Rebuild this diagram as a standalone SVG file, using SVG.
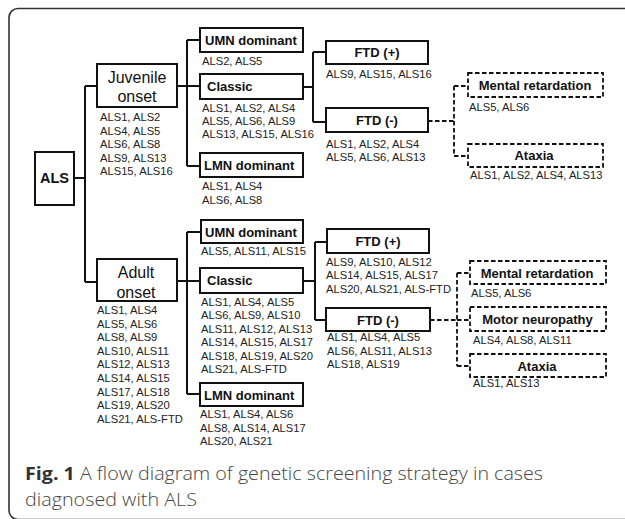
<svg xmlns="http://www.w3.org/2000/svg" width="625" height="519" viewBox="0 0 625 519">
<style>
.frame{fill:#fff;stroke:#333;stroke-width:1.6}
.box{fill:#fff;stroke:#111;stroke-width:2}
.dbox{fill:#fff;stroke:#111;stroke-width:1.8;stroke-dasharray:4.5 2.5}
.ln{fill:none;stroke:#111;stroke-width:2}
.dln{fill:none;stroke:#111;stroke-width:1.8;stroke-dasharray:4.5 2.5}
.lab{font-family:"Liberation Sans",Arial,sans-serif;font-weight:bold;font-size:13px;fill:#111}
.onset{font-family:"Liberation Sans",Arial,sans-serif;font-size:16px;fill:#111;text-anchor:middle}
.gl{font-family:"Liberation Sans",Arial,sans-serif;font-size:11.2px;fill:#222}
.cap{font-family:"Open Sans","Noto Sans",sans-serif;font-size:18px;font-weight:300;fill:#444}
.capb{font-weight:bold;fill:#333}
.mid{text-anchor:middle}
</style>
<rect class="frame" x="9" y="8.5" width="660" height="511" rx="9"/>

<g id="connectors">
<path class="ln" d="M74,178 H85 M85,86 V282 M85,86 H97 M85,282 H97"/>
<path class="ln" d="M177,86 H200 M187,40 V166 M187,40 H200 M187,166 H200"/>
<path class="ln" d="M303,87 H313 M313,52 V122 M313,52 H326 M313,122 H326"/>
<path class="dln" d="M428,121 H454 M454,86 V156 M454,86 H468 M454,156 H468"/>
<path class="ln" d="M177,281 H200 M187,232 V394 M187,232 H201 M187,394 H200"/>
<path class="ln" d="M303,281 H315 M315,242 V320 M315,242 H327 M315,320 H326"/>
<path class="dln" d="M430,320 H457 M457,273 V366 M457,273 H470 M457,320 H470 M457,366 H470"/>
</g>

<g id="als">
<rect class="box" x="35" y="152" width="39" height="53"/>
<text class="lab mid" x="54.5" y="183" style="font-size:14.5px">ALS</text>
</g>

<g id="juvenile-onset">
<rect class="box" x="97" y="64" width="80" height="43"/>
<text class="onset" x="137" y="83">Juvenile</text>
<text class="onset" x="137" y="102">onset</text>
<text class="gl" x="100" y="121"><tspan x="100">ALS1, ALS2</tspan><tspan x="100" dy="13.5">ALS4, ALS5</tspan><tspan x="100" dy="13.5">ALS6, ALS8</tspan><tspan x="100" dy="13.5">ALS9, ALS13</tspan><tspan x="100" dy="13.5">ALS15, ALS16</tspan></text>
</g>

<g id="juv-umn">
<rect class="box" x="200" y="28" width="103" height="24"/>
<text class="lab" x="205" y="45">UMN dominant</text>
<text class="gl" x="202" y="65">ALS2, ALS5</text>
</g>

<g id="juv-classic">
<rect class="box" x="200" y="74" width="103" height="25"/>
<text class="lab" x="207" y="91">Classic</text>
<text class="gl" x="202" y="112"><tspan x="202">ALS1, ALS2, ALS4</tspan><tspan x="202" dy="13">ALS5, ALS6, ALS9</tspan><tspan x="202" dy="13">ALS13, ALS15, ALS16</tspan></text>
</g>

<g id="juv-lmn">
<rect class="box" x="200" y="153" width="103" height="24"/>
<text class="lab" x="204" y="170">LMN dominant</text>
<text class="gl" x="202" y="190"><tspan x="202">ALS1, ALS4</tspan><tspan x="202" dy="14">ALS6, ALS8</tspan></text>
</g>

<g id="juv-ftd-plus">
<rect class="box" x="326" y="41" width="102" height="23"/>
<text class="lab mid" x="377" y="57">FTD (+)</text>
<text class="gl" x="326" y="78">ALS9, ALS15, ALS16</text>
</g>

<g id="juv-ftd-minus">
<rect class="box" x="326" y="108" width="102" height="24"/>
<text class="lab mid" x="377" y="125">FTD (-)</text>
<text class="gl" x="326" y="147.5"><tspan x="326">ALS1, ALS2, ALS4</tspan><tspan x="326" dy="13">ALS5, ALS6, ALS13</tspan></text>
</g>

<g id="juv-mental">
<rect class="dbox" x="468" y="73" width="135" height="24"/>
<text class="lab mid" x="535" y="90">Mental retardation</text>
<text class="gl" x="469" y="110.5">ALS5, ALS6</text>
</g>

<g id="juv-ataxia">
<rect class="dbox" x="468" y="144" width="135" height="23"/>
<text class="lab mid" x="534" y="160">Ataxia</text>
<text class="gl" x="470" y="179">ALS1, ALS2, ALS4, ALS13</text>
</g>

<g id="adult-onset">
<rect class="box" x="97" y="259" width="80" height="42"/>
<text class="onset" x="136" y="278">Adult</text>
<text class="onset" x="136" y="297.5">onset</text>
<text class="gl" x="97" y="314"><tspan x="97">ALS1, ALS4</tspan><tspan x="97" dy="13.6">ALS5, ALS6</tspan><tspan x="97" dy="13.6">ALS8, ALS9</tspan><tspan x="97" dy="13.6">ALS10, ALS11</tspan><tspan x="97" dy="13.6">ALS12, ALS13</tspan><tspan x="97" dy="13.6">ALS14, ALS15</tspan><tspan x="97" dy="13.6">ALS17, ALS18</tspan><tspan x="97" dy="13.6">ALS19, ALS20</tspan><tspan x="97" dy="13.6">ALS21, ALS-FTD</tspan></text>
</g>

<g id="adult-umn">
<rect class="box" x="201" y="220" width="102" height="23"/>
<text class="lab" x="205" y="236.5">UMN dominant</text>
<text class="gl" x="201" y="255">ALS5, ALS11, ALS15</text>
</g>

<g id="adult-classic">
<rect class="box" x="200" y="268" width="103" height="25"/>
<text class="lab" x="207" y="285">Classic</text>
<text class="gl" x="201" y="306"><tspan x="201">ALS1, ALS4, ALS5</tspan><tspan x="201" dy="13.4">ALS6, ALS9, ALS10</tspan><tspan x="201" dy="13.4">ALS11, ALS12, ALS13</tspan><tspan x="201" dy="13.4">ALS14, ALS15, ALS17</tspan><tspan x="201" dy="13.4">ALS18, ALS19, ALS20</tspan><tspan x="201" dy="13.4">ALS21, ALS-FTD</tspan></text>
</g>

<g id="adult-lmn">
<rect class="box" x="200" y="383" width="103" height="23"/>
<text class="lab" x="204" y="399.5">LMN dominant</text>
<text class="gl" x="200" y="418"><tspan x="200">ALS1, ALS4, ALS6</tspan><tspan x="200" dy="13.5">ALS8, ALS14, ALS17</tspan><tspan x="200" dy="13.5">ALS20, ALS21</tspan></text>
</g>

<g id="adult-ftd-plus">
<rect class="box" x="327" y="229" width="102" height="24"/>
<text class="lab mid" x="378" y="246">FTD (+)</text>
<text class="gl" x="326" y="265.5"><tspan x="326">ALS9, ALS10, ALS12</tspan><tspan x="326" dy="13.5">ALS14, ALS15, ALS17</tspan><tspan x="326" dy="13.5">ALS20, ALS21, ALS-FTD</tspan></text>
</g>

<g id="adult-ftd-minus">
<rect class="box" x="326" y="308" width="104" height="23"/>
<text class="lab mid" x="378" y="324.5">FTD (-)</text>
<text class="gl" x="327" y="341"><tspan x="327">ALS1, ALS4, ALS5</tspan><tspan x="327" dy="13.7">ALS6, ALS11, ALS13</tspan><tspan x="327" dy="13.7">ALS18, ALS19</tspan></text>
</g>

<g id="adult-mental">
<rect class="dbox" x="470" y="261" width="136" height="23"/>
<text class="lab mid" x="537" y="277.5">Mental retardation</text>
<text class="gl" x="471" y="297">ALS5, ALS6</text>
</g>

<g id="adult-motor">
<rect class="dbox" x="470" y="307" width="136" height="24"/>
<text class="lab mid" x="537.5" y="324">Motor neuropathy</text>
<text class="gl" x="473" y="344">ALS4, ALS8, ALS11</text>
</g>

<g id="adult-ataxia">
<rect class="dbox" x="470" y="354" width="136" height="23"/>
<text class="lab mid" x="537" y="370.5">Ataxia</text>
<text class="gl" x="473" y="387">ALS1, ALS13</text>
</g>

<g id="caption">
<text class="cap" x="25" y="480" textLength="518" lengthAdjust="spacingAndGlyphs"><tspan class="capb">Fig. 1</tspan> A flow diagram of genetic screening strategy in cases</text>
<text class="cap" x="25" y="506" textLength="172" lengthAdjust="spacingAndGlyphs">diagnosed with ALS</text>
</g>
</svg>
